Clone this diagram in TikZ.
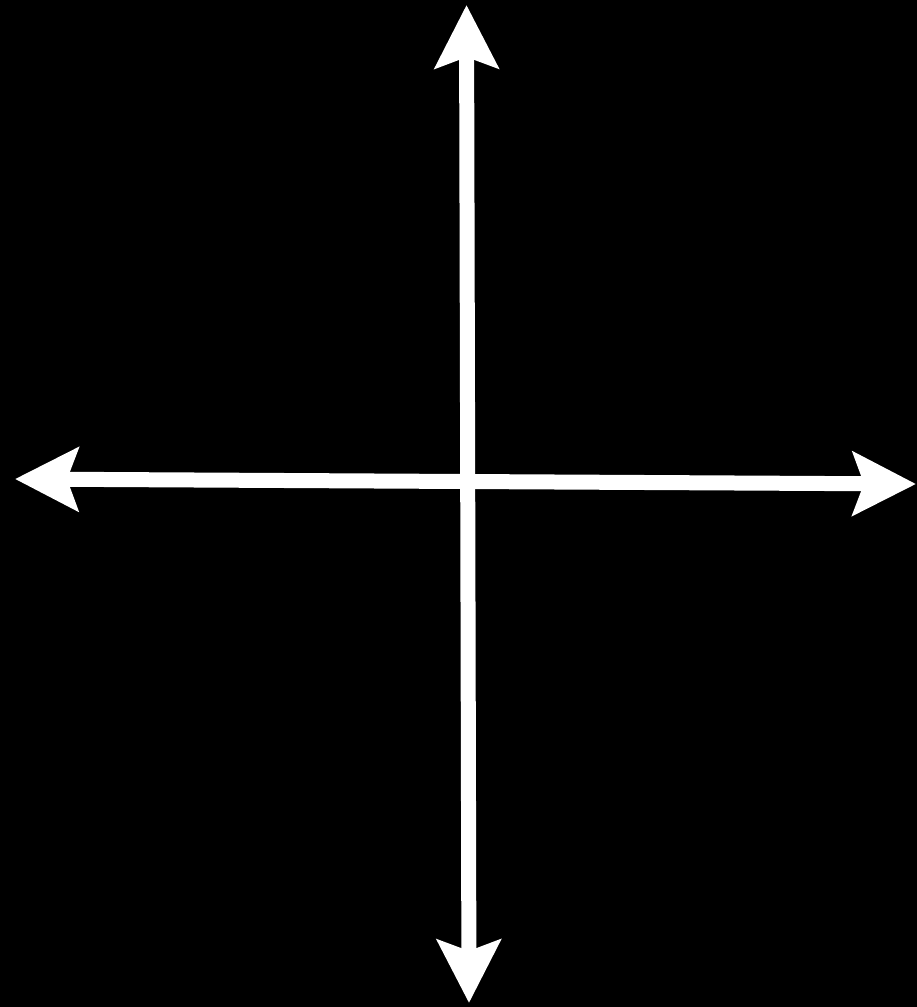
\documentclass[tikz,border=0pt]{standalone}
\usepackage{tikz}
\usetikzlibrary{arrows.meta}

\begin{document}
\begin{tikzpicture}[x=1pt, y=-1pt, axisarr/.style={{Stealth[length=63pt,width=63pt,inset=11pt]}-{Stealth[length=63pt,width=63pt,inset=11pt]}, line width=15pt, white}]
\fill[black] (0,0) rectangle (917,1007);
\useasboundingbox (0,0) rectangle (917,1007);
\coordinate (top) at (466.5,5);
\coordinate (bottom) at (469,1003);
\coordinate (left) at (15,479);
\coordinate (right) at (916,484);
\draw[axisarr] (left)--(right);
\draw[axisarr] (top)--(bottom);
\end{tikzpicture}
\end{document}
